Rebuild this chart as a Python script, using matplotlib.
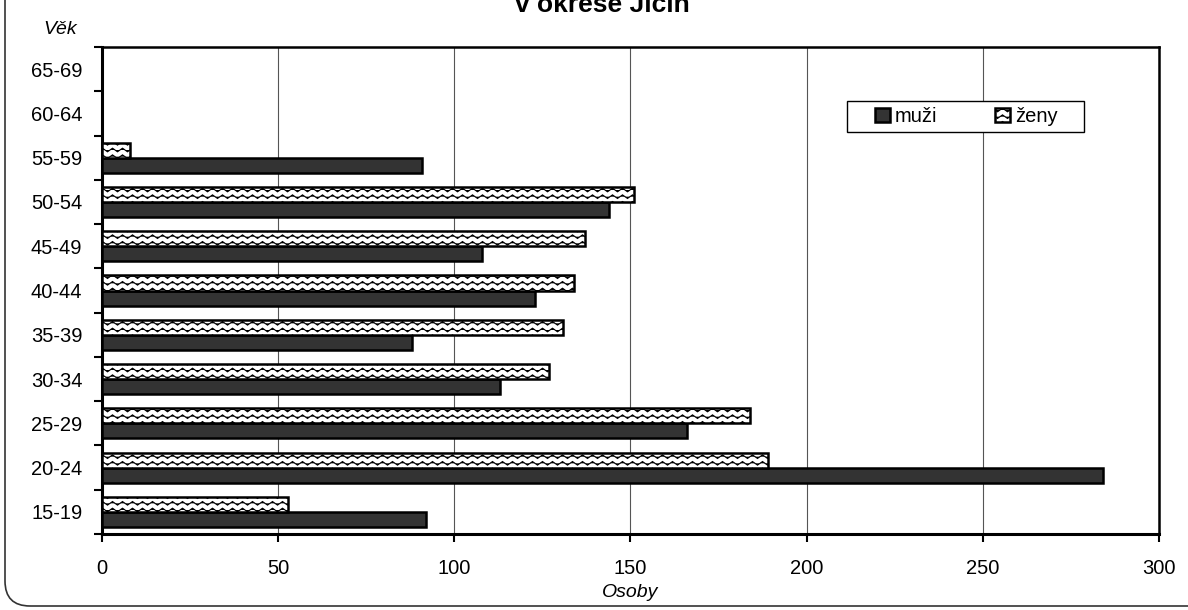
import warnings
import numpy as np
import matplotlib
matplotlib.use('Agg')
import matplotlib.pyplot as plt
import matplotlib.hatch as mhatch
from matplotlib.path import Path
from matplotlib.patches import FancyBboxPatch, Rectangle

warnings.filterwarnings('ignore')

plt.rcParams['font.family'] = ['Liberation Sans', 'DejaVu Sans']
plt.rcParams['hatch.color'] = '#8c8c8c'
plt.rcParams['hatch.linewidth'] = 0.8


# vlnkova srafa jako v Excelu ('~')
class VlnaHatch(mhatch.HatchPatternBase):
    RADKY = 15
    VLNY = 10
    BODY = 4  # bodu na jednu vlnu

    def __init__(self, hatch, density):
        n = self.RADKY if '~' in hatch else 0
        self.num_rows = n
        self.num_vertices = n * (self.BODY * self.VLNY + 1)

    def set_vertices_and_codes(self, vertices, codes):
        k = self.BODY * self.VLNY + 1
        xs = np.linspace(0, 1, k)
        amp = 0.018
        for r in range(self.num_rows):
            y0 = (r + 0.5) / self.num_rows
            ys = y0 + amp * np.sin(2 * np.pi * self.VLNY * xs)
            vertices[r * k:(r + 1) * k, 0] = xs
            vertices[r * k:(r + 1) * k, 1] = ys
            codes[r * k] = Path.MOVETO
            codes[r * k + 1:(r + 1) * k] = Path.LINETO


mhatch._hatch_types.append(VlnaHatch)

# vekove skupiny a pocty osob
vek = ['15-19', '20-24', '25-29', '30-34', '35-39', '40-44',
       '45-49', '50-54', '55-59', '60-64', '65-69']
muzi = [92, 284, 166, 113, 88, 123, 108, 144, 91, 0, 0]
zeny = [53, 189, 184, 127, 131, 134, 137, 151, 8, 0, 0]

W, H = 1188, 610
fig = plt.figure(figsize=(W / 100, H / 100), dpi=100)
ax = fig.add_axes([101.7 / W, 1 - 534 / H, (1159 - 101.7) / W, (534 - 47) / H])

y = np.arange(len(vek))
h = 0.34
ax.barh(y - h / 2, muzi, height=h, color='#333333', edgecolor='black',
        linewidth=1.8, label='muži', zorder=3)
ax.barh(y + h / 2, zeny, height=h, color='white', edgecolor='black',
        hatch='~', linewidth=1.8, label='ženy', zorder=3)

ax.set_xlim(0, 300)
ax.set_ylim(-0.5, len(vek) - 0.5)
ax.set_xticks(np.arange(0, 301, 50))
ax.xaxis.grid(True, color='#555555', linewidth=0.8, zorder=0)

# popisky na stredu skupin, carky na hranicich
ax.set_yticks(np.arange(-0.5, len(vek), 1.0))
ax.set_yticklabels([])
ax.set_yticks(y, minor=True)
ax.set_yticklabels(vek, minor=True)
ax.tick_params(axis='y', which='minor', length=0, pad=14, labelsize=14.5)
ax.tick_params(axis='y', which='major', length=6, width=1.5, direction='out')
ax.tick_params(axis='x', length=6, width=1.5, direction='out', labelsize=14.5, pad=12)

for s in ['left', 'bottom']:
    ax.spines[s].set_linewidth(2.2)
for s in ['top', 'right']:
    ax.spines[s].set_linewidth(1.8)

ax.set_xlabel('Osoby', fontsize=14, style='italic', labelpad=4)
fig.text(43 / W, 1 - 30 / H, 'Věk', fontsize=14, style='italic',
         ha='left', va='center')
fig.text(602 / W, 1 - 12 / H, 'v okrese Jičín', fontsize=19,
         weight='bold', ha='center', va='baseline')

# legenda s vlastnim ramem
ax.add_patch(Rectangle((847 / W, 1 - 132 / H), (1084 - 847) / W, 31 / H,
                       transform=fig.transFigure, facecolor='white',
                       edgecolor='black', linewidth=1.0, zorder=5, clip_on=False))
leg = ax.legend(loc='center left', bbox_to_anchor=(875 / W, 1 - 116.5 / H),
                bbox_transform=fig.transFigure, ncol=2,
                fontsize=14.5, frameon=False,
                handlelength=0.75, handleheight=0.75, handletextpad=0.25,
                columnspacing=2.85, borderpad=0, borderaxespad=0)
leg.set_zorder(6)

# zaobleny ramecek kolem grafu
ram = FancyBboxPatch((0.05, 0.04), 13, 7, boxstyle='round,pad=0,rounding_size=0.25',
                     transform=fig.dpi_scale_trans, facecolor='none',
                     edgecolor='#333333', linewidth=1.2)
fig.patches.append(ram)

fig.savefig('out.png', dpi=100)
